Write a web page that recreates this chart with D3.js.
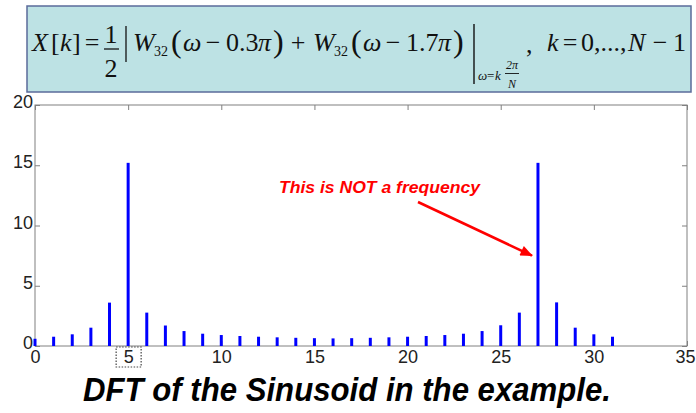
<!DOCTYPE html>
<html><head><meta charset="utf-8">
<script src="https://cdn.jsdelivr.net/npm/d3@7"></script>
<style>
html,body{margin:0;padding:0;background:#fff;}
svg{display:block;}
</style></head>
<body>
<svg id="chart" width="696" height="413"></svg>
<script>
// ---- data ----
const kValues = d3.range(0, 32);
const magnitudes = [0.6, 0.77, 0.97, 1.52, 3.6, 15.2, 2.77, 1.7, 1.24, 1.02, 0.91, 0.83, 0.77, 0.72, 0.68, 0.65,
                    0.63, 0.65, 0.68, 0.72, 0.77, 0.83, 0.91, 1.02, 1.24, 1.72, 2.77, 15.2, 3.62, 1.52, 0.97, 0.77];
const xTicks = [0, 5, 10, 15, 20, 25, 30, 35];
const yTicks = [0, 5, 10, 15, 20];
const xDomain = [0, 35];
const yDomain = [0, 20];
const annotationText = "This is NOT a frequency";
const captionText = "DFT of the Sinusoid in the example.";
const highlightK = 5;
const arrowTargetK = 27;

const svg = d3.select("#chart");
const margin = {left: 35, right: 9, top: 105, bottom: 67};
const W = 696, H = 413;
const x = d3.scaleLinear().domain(xDomain).range([margin.left, W - margin.right]);
const y = d3.scaleLinear().domain(yDomain).range([H - margin.bottom, margin.top]);

// ---- formula box ----
const box = svg.append("g");
box.append("rect").attr("x", 27).attr("y", 6).attr("width", 664).attr("height", 86)
  .attr("fill", "#bde2e4").attr("stroke", "#5b6b9b").attr("stroke-width", 1.5);
const ff = "'Liberation Serif','Times New Roman',serif";
function t(xp, yp, str, size, italic, anchor) {
  return box.append("text").attr("x", xp).attr("y", yp).attr("font-family", ff)
    .attr("font-size", size).attr("font-style", italic ? "italic" : "normal")
    .attr("text-anchor", anchor || "start").attr("fill", "#111").text(str);
}
function hline(x1, x2, yy, w) {
  box.append("line").attr("x1", x1).attr("x2", x2).attr("y1", yy).attr("y2", yy).attr("stroke", "#111").attr("stroke-width", w);
}
function vline(xx, y1, y2, w) {
  box.append("line").attr("x1", xx).attr("x2", xx).attr("y1", y1).attr("y2", y2).attr("stroke", "#111").attr("stroke-width", w);
}
const base = 51, fs = 26;
// X[k] =
t(32, base, "X", fs, true);
t(51, base, "[", fs, false);
t(60, base, "k", fs, true);
t(72, base, "]", fs, false);
t(92, base, "=", fs, false, "middle");
// 1/2
t(111, 43, "1", 26, false, "middle");
hline(104, 119, 49, 1.3);
t(111, 77, "2", 26, false, "middle");
vline(126, 26, 62, 1.3);
// W32(ω−0.3π) + W32(ω−1.7π)
function wGroup(x0, shift) {
  t(x0, base, "W", fs, true);
  t(x0 + 21, base + 5, "32", 14, false);
  t(x0 + 38, base + 1, "(", 32, false);
  t(x0 + 50, base, "ω", fs, true);
  t(x0 + 80, base, "−", fs, false, "middle");
  t(x0 + 93, base, shift, fs, false);
  t(x0 + 125, base, "π", fs, true);
  t(x0 + 140, base + 1, ")", 32, false);
}
wGroup(133, "0.3");
t(298, base, "+", fs, false, "middle");
wGroup(313, "1.7");
// tall evaluation bar
vline(474, 24, 84, 1.4);
// subscript ω=k 2π/N
t(478, 80, "ω", 13, true);
t(487, 80, "=", 13, false);
t(495, 80, "k", 13, true);
t(512, 69, "2π", 12, true, "middle");
hline(505, 519, 73.5, 0.9);
t(512, 88, "N", 12, true, "middle");
t(526, base + 2, ",", fs, false);
t(547, base, "k", fs, true);
t(570, base, "=", fs, false, "middle");
t(581, base, "0,...,", fs, false);
t(628, base, "N", fs, true);
t(660, base, "−", fs, false, "middle");
t(673, base, "1", fs, false);

// ---- axes ----
const axFont = "'Liberation Sans',Arial,sans-serif";
const axColor = "#808080";
const plot = svg.append("g");
plot.append("rect").attr("x", x(xDomain[0])).attr("y", y(yDomain[1]))
  .attr("width", x(xDomain[1]) - x(xDomain[0])).attr("height", y(yDomain[0]) - y(yDomain[1]))
  .attr("fill", "#fff").attr("stroke", axColor).attr("stroke-width", 1);

function styleAxis(g, showLabels) {
  g.select(".domain").remove();
  g.selectAll(".tick line").attr("stroke", axColor);
  g.selectAll(".tick text").attr("font-family", axFont).attr("font-size", 18).attr("fill", "#222")
    .style("display", showLabels ? null : "none");
}
const xAxis = plot.append("g").attr("transform", `translate(0,${y(0)})`)
  .call(d3.axisBottom(x).tickValues(xTicks).tickSize(-5).tickPadding(4).tickFormat(d3.format("d")));
styleAxis(xAxis, true);
// keep the last label inside the page
xAxis.selectAll(".tick text").filter(d => d === xDomain[1]).attr("dx", -2);
const xAxisTop = plot.append("g").attr("transform", `translate(0,${y(yDomain[1])})`)
  .call(d3.axisTop(x).tickValues(xTicks).tickSize(-5));
styleAxis(xAxisTop, false);
const yAxis = plot.append("g").attr("transform", `translate(${x(0)},0)`)
  .call(d3.axisLeft(y).tickValues(yTicks).tickSize(-5).tickPadding(2).tickFormat(d3.format("d")));
styleAxis(yAxis, true);
yAxis.selectAll(".tick text").attr("dy", "0.15em");
const yAxisR = plot.append("g").attr("transform", `translate(${x(xDomain[1])},0)`)
  .call(d3.axisRight(y).tickValues(yTicks).tickSize(-5));
styleAxis(yAxisR, false);

// dotted box around highlighted tick label
const hlX = x(highlightK);
plot.append("rect").attr("x", hlX - 12).attr("y", y(0) + 1).attr("width", 25).attr("height", 20)
  .attr("fill", "none").attr("stroke", "#444").attr("stroke-width", 1.2).attr("stroke-dasharray", "1.5,1.5");

// ---- stems ----
plot.append("g").selectAll("line").data(kValues).join("line")
  .attr("x1", d => x(d)).attr("x2", d => x(d))
  .attr("y1", y(0)).attr("y2", d => y(magnitudes[d]))
  .attr("stroke", "#0000ff").attr("stroke-width", 3);

// ---- annotation ----
svg.append("defs").append("marker").attr("id", "ah").attr("viewBox", "0 0 12 10")
  .attr("refX", 11).attr("refY", 5).attr("markerWidth", 5.5).attr("markerHeight", 4)
  .attr("orient", "auto").attr("markerUnits", "strokeWidth")
  .append("path").attr("d", "M0,0 L12,5 L0,10 Z").attr("fill", "#ff0000");
plot.append("text").attr("x", 279).attr("y", 193).attr("font-family", axFont)
  .attr("font-size", 16.5).attr("font-weight", "bold").attr("font-style", "italic")
  .attr("textLength", 201).attr("lengthAdjust", "spacingAndGlyphs")
  .attr("fill", "#ff0000").text(annotationText);
plot.append("line").attr("x1", 418).attr("y1", 202)
  .attr("x2", x(arrowTargetK) - 6).attr("y2", y(7.5))
  .attr("stroke", "#ff0000").attr("stroke-width", 2.6).attr("marker-end", "url(#ah)");

// ---- caption ----
svg.append("text").attr("x", 83).attr("y", 401)
  .attr("font-family", axFont).attr("font-weight", "bold").attr("font-style", "italic")
  .attr("font-size", 34).attr("textLength", 528).attr("lengthAdjust", "spacingAndGlyphs")
  .attr("fill", "#000").text(captionText);
</script>
</body></html>
